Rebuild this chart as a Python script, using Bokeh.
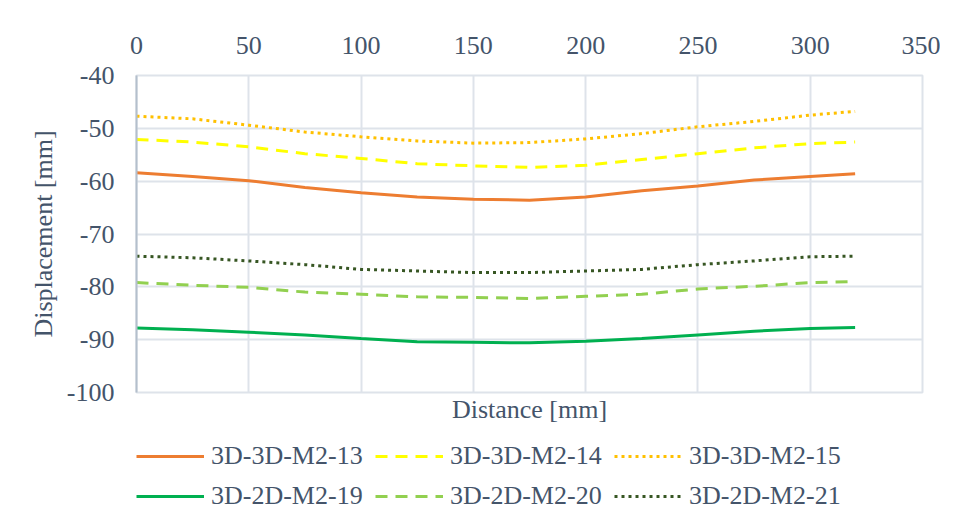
from bokeh.plotting import figure
from bokeh.layouts import column
from bokeh.models import (Range1d, Legend, LegendItem, LinearAxis,
                          FixedTicker, PrintfTickFormatter)
from bokeh.embed import file_html
from bokeh.resources import INLINE

# ---- data ----
distance = [0, 25, 50, 75, 100, 125, 150, 175, 200, 225, 250, 275, 300, 320]
s13 = [-58.4, -59.1, -59.9, -61.2, -62.2, -63.0, -63.4, -63.6, -63.0, -61.8, -60.9, -59.8, -59.1, -58.6]
s14 = [-52.1, -52.6, -53.5, -54.8, -55.7, -56.7, -57.1, -57.4, -57.0, -55.9, -54.8, -53.7, -52.9, -52.6]
s15 = [-47.7, -48.2, -49.4, -50.7, -51.6, -52.4, -52.8, -52.7, -52.0, -51.0, -49.7, -48.7, -47.5, -46.8]
s19 = [-87.8, -88.1, -88.6, -89.1, -89.8, -90.4, -90.5, -90.6, -90.3, -89.8, -89.1, -88.4, -87.9, -87.7]
s20 = [-79.2, -79.7, -80.1, -81.0, -81.4, -81.9, -82.0, -82.2, -81.8, -81.4, -80.4, -79.9, -79.2, -79.0]
s21 = [-74.2, -74.5, -75.1, -75.8, -76.7, -77.0, -77.3, -77.3, -77.0, -76.7, -75.8, -75.1, -74.3, -74.2]
names = ["3D-3D-M2-13", "3D-3D-M2-14", "3D-3D-M2-15",
         "3D-2D-M2-19", "3D-2D-M2-20", "3D-2D-M2-21"]
x_ticks = [0, 50, 100, 150, 200, 250, 300, 350]
y_ticks = [-100, -90, -80, -70, -60, -50, -40]

FONT = "Liberation Serif"
TXT = "#44546A"
GRID = "#DEE3EA"

series = [s13, s14, s15, s19, s20, s21]
styles = [
    ("#ED7D31", "solid"),
    ("#FFFF00", "12 8"),
    ("#FFC000", "3 4"),
    ("#00B050", "solid"),
    ("#92D050", "12 8"),
    ("#375623", "3 4"),
]

p = figure(width=940, height=430,
           min_border_left=136, min_border_top=75, min_border_right=18,
           min_border_bottom=38, output_backend="svg", toolbar_location=None,
           x_range=Range1d(0, 350), y_range=Range1d(-100, -40),
           x_axis_location="above")
p.outline_line_color = GRID
p.outline_line_width = 2
p.background_fill_color = "white"
p.border_fill_color = "white"

# top x-axis with tick labels
xa = p.xaxis[0]
xa.ticker = FixedTicker(ticks=x_ticks)
xa.formatter = PrintfTickFormatter(format="%d")
xa.axis_line_color = None
xa.major_tick_line_color = None
xa.minor_tick_line_color = None
xa.major_label_text_font = FONT
xa.major_label_text_font_size = "26px"
xa.major_label_text_color = TXT
xa.major_label_standoff = 16

# bottom axis: only the title "Distance [mm]"
bx = LinearAxis(ticker=FixedTicker(ticks=[]), axis_line_color=None,
                major_tick_line_color=None, minor_tick_line_color=None,
                axis_label="Distance [mm]", axis_label_text_font=FONT,
                axis_label_text_font_size="26px", axis_label_text_font_style="normal",
                axis_label_text_color=TXT, axis_label_standoff=2)
p.add_layout(bx, "below")

ya = p.yaxis[0]
ya.ticker = FixedTicker(ticks=y_ticks)
ya.formatter = PrintfTickFormatter(format="%d")
ya.axis_line_color = "#B4BFCC"
ya.axis_line_width = 2
ya.major_tick_line_color = None
ya.minor_tick_line_color = None
ya.major_label_text_font = FONT
ya.major_label_text_font_size = "26px"
ya.major_label_text_color = TXT
ya.major_label_standoff = 16
ya.axis_label = "Displacement [mm]"
ya.axis_label_text_font = FONT
ya.axis_label_text_font_size = "26px"
ya.axis_label_text_font_style = "normal"
ya.axis_label_text_color = TXT
ya.axis_label_standoff = 6

p.xgrid.ticker = FixedTicker(ticks=x_ticks)
p.ygrid.ticker = FixedTicker(ticks=y_ticks)
p.grid.grid_line_color = GRID
p.grid.grid_line_width = 2

for ys, (col, dash) in zip(series, styles):
    p.line(distance, ys, line_color=col, line_width=3, line_dash=dash)

# legend figure below the chart (its lines lie outside its visible range)
q = figure(width=940, height=90, min_border=0, output_backend="svg",
           toolbar_location=None, x_axis_type=None, y_axis_type=None,
           x_range=Range1d(1000, 1001), y_range=Range1d(1000, 1001))
q.outline_line_color = None
q.grid.visible = False
q.background_fill_color = "white"
q.border_fill_color = "white"
items = []
for n, ys, (col, dash) in zip(names, series, styles):
    r = q.line(distance, ys, line_color=col, line_width=3, line_dash=dash)
    items.append(LegendItem(label=n, renderers=[r]))

legend = Legend(items=items, orientation="horizontal", nrows=2, location=(0, 9),
                glyph_width=68, glyph_height=20, label_standoff=7, label_width=154,
                spacing=10, padding=2, margin=0,
                label_text_font=FONT, label_text_font_size="26px", label_text_color=TXT,
                border_line_color=None, background_fill_alpha=0)
q.add_layout(legend, "center")

layout = column(p, q, spacing=0)
open("out.html", "w").write(file_html(layout, INLINE))
